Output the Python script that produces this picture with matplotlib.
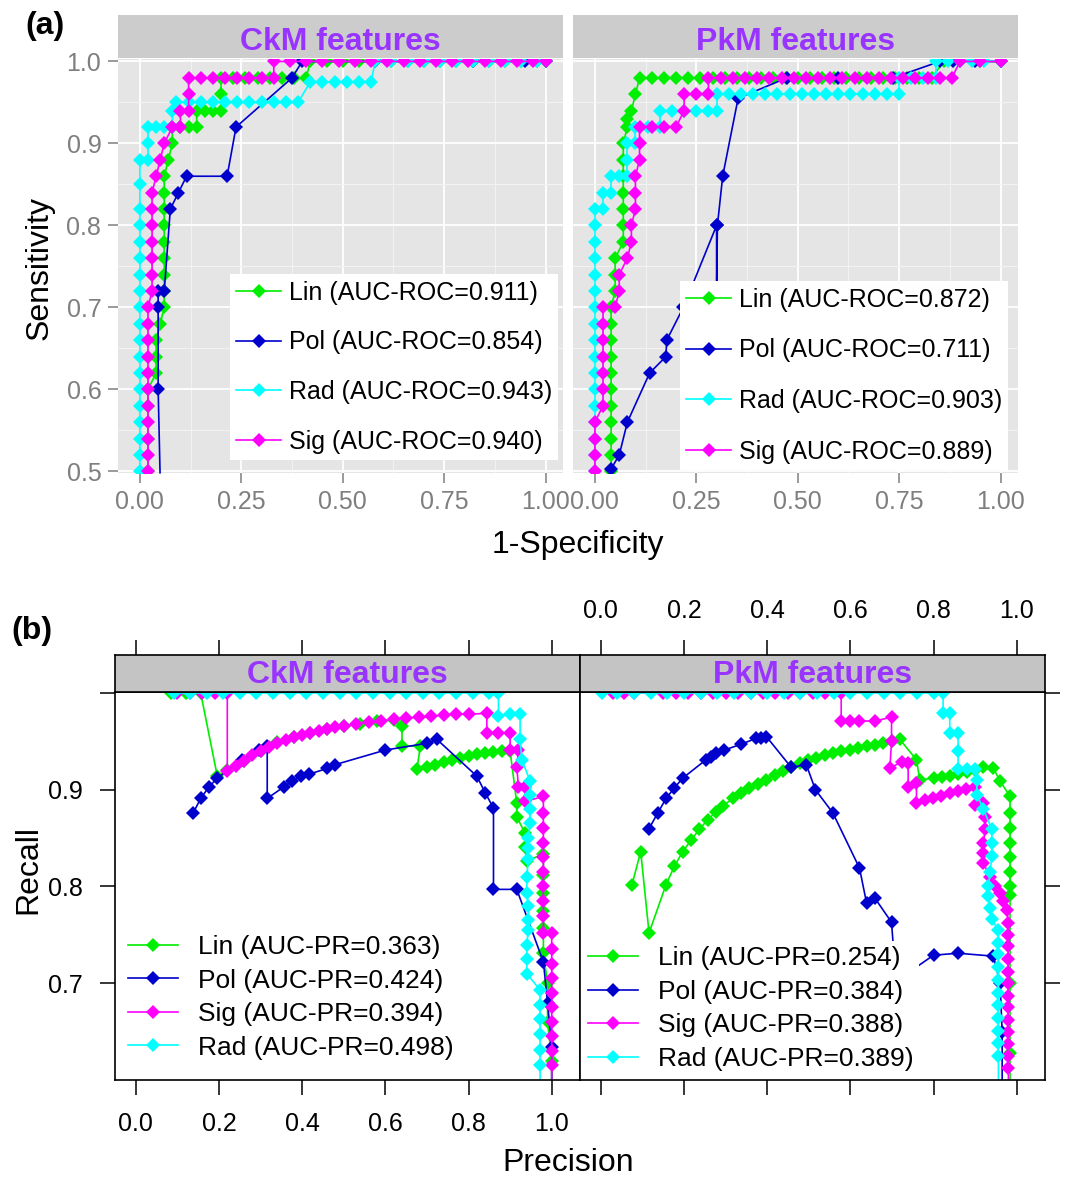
import matplotlib
matplotlib.use("Agg")
import matplotlib.pyplot as plt
from matplotlib.lines import Line2D

plt.rcParams['font.family'] = ['Liberation Sans', 'DejaVu Sans']

# colours used in both panels
GREEN = '#00EE00'
BLUE = '#0000CD'
CYAN = '#00FFFF'
MAGENTA = '#FF00FF'
PURPLE = '#9933FF'

# ---------------- (a) ROC curves, CkM features ----------------
lin_ckm_fpr = [0.02, 0.02, 0.02, 0.02, 0.04, 0.04, 0.04, 0.05, 0.06, 0.06, 0.06, 0.06, 0.06, 0.06, 0.06, 0.06, 0.06,
               0.07, 0.08, 0.08, 0.10, 0.12, 0.14, 0.14, 0.16, 0.18, 0.20, 0.20, 0.20, 0.23, 0.26, 0.29, 0.32, 0.35,
               0.38, 0.41, 0.42, 0.46, 0.50, 0.54, 0.58, 0.62, 0.66, 0.70, 0.74, 0.78, 0.82, 0.86, 0.90, 0.94, 0.98, 1.00]
lin_ckm_tpr = [0.50, 0.54, 0.58, 0.60, 0.62, 0.64, 0.66, 0.68, 0.70, 0.72, 0.74, 0.76, 0.78, 0.80, 0.82, 0.84, 0.86,
               0.88, 0.90, 0.92, 0.92, 0.92, 0.92, 0.94, 0.94, 0.94, 0.94, 0.96, 0.98, 0.98, 0.98, 0.98, 0.98, 0.98,
               0.98, 0.98, 1.00, 1.00, 1.00, 1.00, 1.00, 1.00, 1.00, 1.00, 1.00, 1.00, 1.00, 1.00, 1.00, 1.00, 1.00, 1.00]

pol_ckm_fpr = [0.05, 0.045, 0.045, 0.045, 0.06, 0.075, 0.095, 0.115, 0.215, 0.237, 0.375, 0.40, 0.58, 0.82, 0.95, 1.00]
pol_ckm_tpr = [0.49, 0.60, 0.70, 0.72, 0.72, 0.82, 0.84, 0.86, 0.86, 0.92, 0.98, 1.00, 1.00, 1.00, 1.00, 1.00]

rad_ckm_fpr = [0.00, 0.00, 0.00, 0.00, 0.00, 0.00, 0.00, 0.00, 0.00, 0.00, 0.00, 0.00, 0.00, 0.00, 0.00, 0.00, 0.00,
               0.00, 0.00, 0.02, 0.02, 0.02, 0.04, 0.06, 0.08, 0.08, 0.09, 0.12, 0.15, 0.18, 0.21, 0.24, 0.27, 0.30,
               0.33, 0.36, 0.39, 0.42, 0.45, 0.48, 0.51, 0.54, 0.57, 0.58, 0.62, 0.66, 0.70, 0.74, 0.78, 0.82, 0.86,
               0.90, 0.94, 0.98, 1.00]
rad_ckm_tpr = [0.50, 0.52, 0.54, 0.56, 0.58, 0.60, 0.62, 0.64, 0.66, 0.68, 0.70, 0.72, 0.74, 0.76, 0.78, 0.80, 0.82,
               0.85, 0.88, 0.88, 0.90, 0.92, 0.92, 0.92, 0.92, 0.94, 0.95, 0.95, 0.95, 0.95, 0.95, 0.95, 0.95, 0.95,
               0.95, 0.95, 0.95, 0.975, 0.975, 0.975, 0.975, 0.975, 0.975, 1.00, 1.00, 1.00, 1.00, 1.00, 1.00, 1.00,
               1.00, 1.00, 1.00, 1.00, 1.00]

sig_ckm_fpr = [0.02, 0.02, 0.02, 0.02, 0.02, 0.02, 0.02, 0.02, 0.02, 0.02, 0.02, 0.03, 0.03, 0.03, 0.03, 0.03, 0.03,
               0.03, 0.04, 0.05, 0.06, 0.08, 0.10, 0.10, 0.12, 0.12, 0.12, 0.15, 0.18, 0.21, 0.24, 0.27, 0.30, 0.33,
               0.33, 0.37, 0.41, 0.45, 0.49, 0.53, 0.57, 0.61, 0.65, 0.69, 0.73, 0.77, 0.81, 0.85, 0.89, 0.93, 0.97, 1.00]
sig_ckm_tpr = [0.50, 0.52, 0.54, 0.56, 0.58, 0.60, 0.62, 0.64, 0.66, 0.68, 0.70, 0.72, 0.74, 0.76, 0.78, 0.80, 0.82,
               0.84, 0.86, 0.88, 0.90, 0.92, 0.92, 0.94, 0.94, 0.96, 0.98, 0.98, 0.98, 0.98, 0.98, 0.98, 0.98, 0.98,
               1.00, 1.00, 1.00, 1.00, 1.00, 1.00, 1.00, 1.00, 1.00, 1.00, 1.00, 1.00, 1.00, 1.00, 1.00, 1.00, 1.00, 1.00]

# ---------------- (a) ROC curves, PkM features ----------------
lin_pkm_fpr = [0.04, 0.04, 0.04, 0.04, 0.04, 0.04, 0.04, 0.04, 0.04, 0.04, 0.04, 0.05, 0.05, 0.05, 0.07, 0.07, 0.07,
               0.07, 0.07, 0.07, 0.07, 0.08, 0.08, 0.09, 0.10, 0.11, 0.14, 0.17, 0.20, 0.23, 0.26, 0.29, 0.32, 0.35,
               0.38, 0.41, 0.44, 0.47, 0.50, 0.53, 0.56, 0.59, 0.62, 0.65, 0.68, 0.71, 0.74, 0.77, 0.80, 0.83, 0.86,
               0.90, 0.95, 1.00]
lin_pkm_tpr = [0.50, 0.52, 0.54, 0.56, 0.58, 0.60, 0.62, 0.64, 0.66, 0.68, 0.70, 0.72, 0.74, 0.76, 0.78, 0.80, 0.82,
               0.84, 0.86, 0.88, 0.90, 0.92, 0.93, 0.94, 0.96, 0.98, 0.98, 0.98, 0.98, 0.98, 0.98, 0.98, 0.98, 0.98,
               0.98, 0.98, 0.98, 0.98, 0.98, 0.98, 0.98, 0.98, 0.98, 0.98, 0.98, 0.98, 0.98, 0.98, 0.98, 0.98, 1.00,
               1.00, 1.00, 1.00]

pol_pkm_fpr = [0.04, 0.06, 0.08, 0.135, 0.175, 0.177, 0.218, 0.30, 0.30, 0.302, 0.315, 0.353, 0.473, 0.60, 0.735,
               0.85, 0.883, 0.937, 1.00]
pol_pkm_tpr = [0.503, 0.52, 0.56, 0.62, 0.64, 0.66, 0.70, 0.80, 0.72, 0.80, 0.86, 0.955, 0.98, 0.98, 0.98,
               1.00, 1.00, 1.00, 1.00]

rad_pkm_fpr = [0.00, 0.00, 0.00, 0.00, 0.00, 0.00, 0.00, 0.00, 0.00, 0.00, 0.00, 0.00, 0.00, 0.00, 0.00, 0.00, 0.00,
               0.02, 0.02, 0.04, 0.04, 0.06, 0.08, 0.08, 0.08, 0.10, 0.10, 0.13, 0.16, 0.16, 0.19, 0.22, 0.25, 0.28,
               0.30, 0.30, 0.33, 0.36, 0.39, 0.42, 0.45, 0.48, 0.51, 0.54, 0.57, 0.60, 0.63, 0.66, 0.69, 0.72, 0.75,
               0.75, 0.78, 0.81, 0.84, 0.84, 0.87, 0.90, 0.93, 0.96, 1.00]
rad_pkm_tpr = [0.50, 0.52, 0.54, 0.56, 0.58, 0.60, 0.62, 0.64, 0.66, 0.68, 0.70, 0.72, 0.74, 0.76, 0.78, 0.80, 0.82,
               0.82, 0.84, 0.84, 0.86, 0.86, 0.86, 0.88, 0.90, 0.90, 0.92, 0.92, 0.92, 0.94, 0.94, 0.94, 0.94, 0.94,
               0.94, 0.96, 0.96, 0.96, 0.96, 0.96, 0.96, 0.96, 0.96, 0.96, 0.96, 0.96, 0.96, 0.96, 0.96, 0.96, 0.96,
               0.98, 0.98, 0.98, 0.98, 1.00, 1.00, 1.00, 1.00, 1.00, 1.00]

sig_pkm_fpr = [0.00, 0.00, 0.00, 0.00, 0.02, 0.02, 0.02, 0.02, 0.02, 0.02, 0.02, 0.05, 0.06, 0.06, 0.08, 0.09, 0.09,
               0.10, 0.10, 0.10, 0.11, 0.11, 0.11, 0.14, 0.17, 0.20, 0.22, 0.22, 0.25, 0.28, 0.28, 0.31, 0.34, 0.37,
               0.40, 0.43, 0.46, 0.49, 0.52, 0.55, 0.58, 0.61, 0.64, 0.67, 0.70, 0.73, 0.76, 0.79, 0.82, 0.85, 0.88,
               0.90, 0.95, 1.00]
sig_pkm_tpr = [0.50, 0.52, 0.54, 0.56, 0.58, 0.60, 0.62, 0.64, 0.66, 0.68, 0.70, 0.70, 0.72, 0.74, 0.76, 0.78, 0.80,
               0.82, 0.84, 0.86, 0.88, 0.90, 0.92, 0.92, 0.92, 0.92, 0.94, 0.96, 0.96, 0.96, 0.98, 0.98, 0.98, 0.98,
               0.98, 0.98, 0.98, 0.98, 0.98, 0.98, 0.98, 0.98, 0.98, 0.98, 0.98, 0.98, 0.98, 0.98, 0.98, 0.98, 0.98,
               1.00, 1.00, 1.00]

roc_auc_ckm = {'Lin': '0.911', 'Pol': '0.854', 'Rad': '0.943', 'Sig': '0.940'}
roc_auc_pkm = {'Lin': '0.872', 'Pol': '0.711', 'Rad': '0.903', 'Sig': '0.889'}

# ---------------- (b) PR curves, CkM features ----------------
lin_ckm_prec = [0.084, 0.12, 0.156, 0.196, 0.22, 0.26, 0.30, 0.34, 0.38, 0.42, 0.46, 0.50, 0.54, 0.58, 0.62, 0.64,
                0.64, 0.684, 0.676, 0.70, 0.72, 0.74, 0.76, 0.78, 0.80, 0.82, 0.84, 0.86, 0.88, 0.90, 0.916, 0.916,
                0.936, 0.936, 0.94, 0.98, 0.98, 0.98, 0.98, 0.98, 0.98, 0.99, 0.99, 1.00, 1.00]
lin_ckm_rec = [1.00, 1.00, 1.00, 0.914, 0.92, 0.93, 0.94, 0.949, 0.955, 0.959, 0.963, 0.966, 0.968, 0.971, 0.972,
               0.966, 0.945, 0.945, 0.921, 0.924, 0.926, 0.929, 0.931, 0.933, 0.935, 0.937, 0.938, 0.939, 0.94, 0.94,
               0.886, 0.872, 0.855, 0.841, 0.826, 0.834, 0.812, 0.793, 0.775, 0.757, 0.731, 0.70, 0.66, 0.62, 0.59]

pol_ckm_prec = [0.138, 0.156, 0.176, 0.196, 0.256, 0.296, 0.316, 0.316, 0.356, 0.376, 0.396, 0.416, 0.46, 0.48,
                0.60, 0.70, 0.724, 0.82, 0.84, 0.86, 0.86, 0.916, 0.98, 0.99, 1.00, 1.00]
pol_ckm_rec = [0.876, 0.891, 0.903, 0.912, 0.931, 0.941, 0.945, 0.891, 0.903, 0.909, 0.914, 0.916, 0.922, 0.926,
               0.941, 0.948, 0.952, 0.914, 0.897, 0.881, 0.797, 0.797, 0.722, 0.68, 0.634, 0.59]

sig_ckm_prec = [0.10, 0.13, 0.16, 0.19, 0.22, 0.22, 0.24, 0.26, 0.28, 0.30, 0.32, 0.34, 0.36, 0.38, 0.40, 0.42, 0.44,
                0.46, 0.48, 0.50, 0.53, 0.56, 0.59, 0.62, 0.65, 0.68, 0.71, 0.74, 0.77, 0.80, 0.844, 0.844, 0.87,
                0.90, 0.90, 0.92, 0.916, 0.92, 0.936, 0.936, 0.98, 0.98, 0.98, 0.98, 0.98, 0.98, 0.98, 0.98, 0.98,
                0.98, 1.00, 1.00, 1.00, 1.00, 1.00, 1.00, 1.00, 1.00, 1.00, 1.00, 1.00]
sig_ckm_rec = [1.00, 1.00, 1.00, 1.00, 1.00, 0.919, 0.925, 0.93, 0.936, 0.94, 0.944, 0.948, 0.951, 0.954, 0.957,
               0.959, 0.961, 0.963, 0.965, 0.966, 0.968, 0.970, 0.971, 0.973, 0.974, 0.975, 0.976, 0.977, 0.978,
               0.978, 0.979, 0.959, 0.959, 0.959, 0.941, 0.941, 0.924, 0.903, 0.903, 0.888, 0.893, 0.876, 0.86,
               0.845, 0.83, 0.815, 0.80, 0.785, 0.77, 0.752, 0.752, 0.735, 0.72, 0.705, 0.69, 0.675, 0.66, 0.645,
               0.63, 0.615, 0.59]

rad_ckm_prec = [0.092, 0.13, 0.17, 0.21, 0.25, 0.29, 0.33, 0.37, 0.41, 0.45, 0.49, 0.53, 0.57, 0.61, 0.65, 0.69,
                0.73, 0.77, 0.81, 0.85, 0.872, 0.872, 0.90, 0.924, 0.924, 0.928, 0.948, 0.948, 0.948, 0.948, 0.944,
                0.944, 0.944, 0.94, 0.94, 0.944, 0.944, 0.944, 0.94, 0.94, 0.94, 0.972, 0.972, 0.972, 0.972, 0.972,
                0.972, 0.972]
rad_ckm_rec = [1.00, 1.00, 1.00, 1.00, 1.00, 1.00, 1.00, 1.00, 1.00, 1.00, 1.00, 1.00, 1.00, 1.00, 1.00, 1.00, 1.00,
               1.00, 1.00, 1.00, 1.00, 0.976, 0.978, 0.978, 0.952, 0.931, 0.909, 0.895, 0.88, 0.866, 0.85, 0.84,
               0.828, 0.81, 0.793, 0.78, 0.765, 0.755, 0.74, 0.725, 0.71, 0.693, 0.678, 0.663, 0.648, 0.631, 0.615,
               0.59]

# ---------------- (b) PR curves, PkM features ----------------
lin_pkm_prec = [0.075, 0.096, 0.116, 0.157, 0.177, 0.197, 0.217, 0.237, 0.257, 0.277, 0.293, 0.317, 0.337, 0.357,
                0.378, 0.398, 0.418, 0.438, 0.458, 0.478, 0.498, 0.518, 0.538, 0.558, 0.578, 0.598, 0.618, 0.639,
                0.659, 0.679, 0.699, 0.719, 0.759, 0.767, 0.80, 0.82, 0.839, 0.86, 0.88, 0.90, 0.92, 0.944, 0.96,
                0.984, 0.984, 0.984, 0.984, 0.984, 0.984, 0.984, 0.984, 0.984, 0.984, 0.984]
lin_pkm_rec = [0.802, 0.836, 0.752, 0.802, 0.821, 0.836, 0.848, 0.859, 0.869, 0.877, 0.883, 0.891, 0.897, 0.902,
               0.906, 0.91, 0.915, 0.919, 0.923, 0.928, 0.931, 0.933, 0.936, 0.938, 0.94, 0.941, 0.943, 0.945, 0.946,
               0.948, 0.95, 0.952, 0.931, 0.91, 0.912, 0.913, 0.914, 0.916, 0.918, 0.92, 0.923, 0.922, 0.909, 0.893,
               0.876, 0.86, 0.845, 0.83, 0.815, 0.80, 0.791, 0.70, 0.628, 0.59]

pol_pkm_prec = [0.115, 0.137, 0.157, 0.177, 0.197, 0.253, 0.265, 0.277, 0.297, 0.337, 0.373, 0.385, 0.398, 0.458,
                0.494, 0.516, 0.558, 0.622, 0.639, 0.659, 0.699, 0.71, 0.743, 0.80, 0.859, 0.944, 0.96, 0.965, 0.965]
pol_pkm_rec = [0.859, 0.876, 0.891, 0.902, 0.912, 0.931, 0.934, 0.938, 0.941, 0.947, 0.953, 0.953, 0.955, 0.923,
               0.926, 0.90, 0.876, 0.819, 0.783, 0.788, 0.763, 0.70, 0.712, 0.729, 0.731, 0.728, 0.70, 0.65, 0.59]

sig_pkm_prec = [0.03, 0.055, 0.08, 0.15, 0.18, 0.21, 0.24, 0.27, 0.30, 0.33, 0.36, 0.39, 0.42, 0.45, 0.48, 0.51,
                0.54, 0.578, 0.578, 0.598, 0.622, 0.659, 0.699, 0.699, 0.695, 0.723, 0.739, 0.739, 0.759, 0.759,
                0.779, 0.799, 0.819, 0.839, 0.859, 0.879, 0.90, 0.90, 0.92, 0.924, 0.924, 0.92, 0.92, 0.92, 0.936,
                0.948, 0.96, 0.968, 0.976, 0.98, 0.98, 0.98, 0.98, 0.98, 0.98, 0.98, 0.98, 0.98, 0.98, 0.98, 0.98,
                0.98, 0.98]
sig_pkm_rec = [1.00, 1.00, 1.00, 1.00, 1.00, 1.00, 1.00, 1.00, 1.00, 1.00, 1.00, 1.00, 1.00, 1.00, 1.00, 1.00,
               1.00, 1.00, 0.971, 0.971, 0.971, 0.971, 0.975, 0.95, 0.922, 0.929, 0.928, 0.903, 0.907, 0.886,
               0.889, 0.891, 0.894, 0.897, 0.899, 0.901, 0.903, 0.884, 0.886, 0.872, 0.859, 0.845, 0.835, 0.824,
               0.81, 0.80, 0.793, 0.785, 0.776, 0.762, 0.75, 0.738, 0.725, 0.712, 0.70, 0.687, 0.675, 0.662, 0.65,
               0.637, 0.625, 0.612, 0.59]

rad_pkm_prec = [0.004, 0.04, 0.08, 0.12, 0.16, 0.20, 0.24, 0.28, 0.32, 0.36, 0.40, 0.44, 0.48, 0.52, 0.56, 0.60,
                0.64, 0.68, 0.72, 0.76, 0.80, 0.823, 0.823, 0.839, 0.839, 0.859, 0.859, 0.859, 0.88, 0.90, 0.904,
                0.904, 0.92, 0.94, 0.94, 0.94, 0.936, 0.932, 0.932, 0.936, 0.94, 0.956, 0.956, 0.956, 0.956, 0.956,
                0.956, 0.956, 0.956, 0.956, 0.956, 0.956, 0.956]
rad_pkm_rec = [1.00, 1.00, 1.00, 1.00, 1.00, 1.00, 1.00, 1.00, 1.00, 1.00, 1.00, 1.00, 1.00, 1.00, 1.00, 1.00,
               1.00, 1.00, 1.00, 1.00, 1.00, 1.00, 0.979, 0.979, 0.959, 0.959, 0.94, 0.921, 0.921, 0.921, 0.91,
               0.895, 0.88, 0.859, 0.845, 0.831, 0.815, 0.80, 0.79, 0.778, 0.766, 0.755, 0.742, 0.73, 0.717, 0.703,
               0.69, 0.677, 0.664, 0.651, 0.638, 0.625, 0.59]

pr_auc_ckm = {'Lin': '0.363', 'Pol': '0.424', 'Sig': '0.394', 'Rad': '0.498'}
pr_auc_pkm = {'Lin': '0.254', 'Pol': '0.384', 'Sig': '0.388', 'Rad': '0.389'}

colors = {'Lin': GREEN, 'Pol': BLUE, 'Rad': CYAN, 'Sig': MAGENTA}

# figure in pixel layout
W, H = 1068, 1177
fig = plt.figure(figsize=(W / 100, H / 100), dpi=100)


def rect(x0, y0, x1, y1):
    return [x0 / W, 1 - y1 / H, (x1 - x0) / W, (y1 - y0) / H]


MS = 7.5
LW = 1.2


def strip(r, title, face, border, ty):
    s = fig.add_axes(r)
    s.set_facecolor(face)
    s.set_xticks([])
    s.set_yticks([])
    for sp in s.spines.values():
        sp.set_visible(border)
        sp.set_linewidth(1.2)
    s.text(0.5, ty, title, transform=s.transAxes, ha='center', va='center',
           color=PURPLE, fontsize=23, fontweight='bold')
    return s


# ---------- (a) ggplot-like ROC panels ----------
roc_sets = [
    ('CkM features', rect(118, 59, 563, 473), rect(118, 15, 563, 58),
     {'Lin': (lin_ckm_fpr, lin_ckm_tpr), 'Pol': (pol_ckm_fpr, pol_ckm_tpr),
      'Rad': (rad_ckm_fpr, rad_ckm_tpr), 'Sig': (sig_ckm_fpr, sig_ckm_tpr)},
     roc_auc_ckm, (0.989, 0.031), 1.03, True),
    ('PkM features', rect(573, 59, 1018, 473), rect(573, 15, 1018, 58),
     {'Lin': (lin_pkm_fpr, lin_pkm_tpr), 'Pol': (pol_pkm_fpr, pol_pkm_tpr),
      'Rad': (rad_pkm_fpr, rad_pkm_tpr), 'Sig': (sig_pkm_fpr, sig_pkm_tpr)},
     roc_auc_pkm, (0.978, 0.007), 1.07, False),
]

for title, r, sr, curves, aucs, anchor, lspace, show_y in roc_sets:
    ax = fig.add_axes(r)
    ax.set_facecolor('#E5E5E5')
    for sp in ax.spines.values():
        sp.set_visible(False)
    ax.set_xlim(-0.054, 1.043)
    ax.set_ylim(0.498, 1.003)
    ax.set_xticks([0.0, 0.25, 0.5, 0.75, 1.0])
    ax.set_xticks([0.125, 0.375, 0.625, 0.875], minor=True)
    ax.set_yticks([0.5, 0.6, 0.7, 0.8, 0.9, 1.0])
    ax.set_yticks([0.55, 0.65, 0.75, 0.85, 0.95], minor=True)
    ax.grid(which='major', color='white', lw=1.3)
    ax.grid(which='minor', color='#F2F2F2', lw=0.8)
    ax.set_axisbelow(True)
    ax.set_xticklabels(['0.00', '0.25', '0.50', '0.75', '1.00'])
    ax.tick_params(which='major', direction='out', length=7, width=1.1, color='#7F7F7F',
                   labelcolor='#7F7F7F', labelsize=18, pad=5)
    ax.tick_params(which='minor', length=0)
    if show_y:
        ax.set_yticklabels(['0.5', '0.6', '0.7', '0.8', '0.9', '1.0'])
    else:
        ax.tick_params(axis='y', which='major', length=0, labelleft=False)

    handles = []
    for name in ['Lin', 'Pol', 'Rad', 'Sig']:
        x, y = curves[name]
        ax.plot(x, y, color=colors[name], lw=LW, marker='D', ms=MS, mew=0)
        handles.append(Line2D([], [], color=colors[name], lw=LW, marker='D', ms=MS, mew=0,
                              label=f'{name} (AUC-ROC={aucs[name]})'))
    leg = ax.legend(handles=handles, loc='lower right', bbox_to_anchor=anchor, borderaxespad=0,
                    fontsize=18, labelspacing=lspace, handlelength=1.8, handletextpad=0.3,
                    borderpad=0.25, frameon=True, fancybox=False, numpoints=1)
    leg.get_frame().set_facecolor('white')
    leg.get_frame().set_edgecolor('none')
    leg.get_frame().set_alpha(1)

    strip(sr, title, '#CCCCCC', False, 0.38)

# ---------- (b) lattice-like PR panels ----------
pr_sets = [
    ('CkM features', rect(115, 692, 580, 1080), rect(115, 655, 580, 692),
     {'Lin': (lin_ckm_prec, lin_ckm_rec), 'Pol': (pol_ckm_prec, pol_ckm_rec),
      'Sig': (sig_ckm_prec, sig_ckm_rec), 'Rad': (rad_ckm_prec, rad_ckm_rec)},
     pr_auc_ckm, (0.017, 0.039), 'left'),
    ('PkM features', rect(580, 692, 1045, 1080), rect(580, 655, 1045, 692),
     {'Lin': (lin_pkm_prec, lin_pkm_rec), 'Pol': (pol_pkm_prec, pol_pkm_rec),
      'Sig': (sig_pkm_prec, sig_pkm_rec), 'Rad': (rad_pkm_prec, rad_pkm_rec)},
     pr_auc_pkm, (0.006, 0.01), 'right'),
]

xt = [0.0, 0.2, 0.4, 0.6, 0.8, 1.0]
xtl = ['0.0', '0.2', '0.4', '0.6', '0.8', '1.0']
yt = [0.7, 0.8, 0.9, 1.0]

for title, r, sr, curves, aucs, anchor, side in pr_sets:
    ax = fig.add_axes(r)
    ax.set_xlim(-0.05, 1.068)
    ax.set_ylim(0.6, 1.001)
    for sp in ax.spines.values():
        sp.set_linewidth(1.2)
    ax.set_xticks(xt)
    ax.set_yticks(yt)
    ax.tick_params(direction='out', length=11, width=1.1, labelsize=18, pad=12)
    if side == 'left':
        ax.set_xticklabels(xtl)
        ax.set_yticklabels(['0.7', '0.8', '0.9', ''])
    else:
        ax.tick_params(labelbottom=False, left=False, labelleft=False, right=True)

    handles = []
    for name in ['Lin', 'Pol', 'Sig', 'Rad']:
        x, y = curves[name]
        ax.plot(x, y, color=colors[name], lw=LW, marker='D', ms=MS, mew=0)
        handles.append(Line2D([], [], color=colors[name], lw=LW, marker='D', ms=MS, mew=0,
                              label=f'{name} (AUC-PR={aucs[name]})'))
    leg = ax.legend(handles=handles, loc='lower left', bbox_to_anchor=anchor, borderaxespad=0,
                    fontsize=19, labelspacing=0.36, handlelength=1.9, handletextpad=0.75,
                    borderpad=0.2, frameon=True, fancybox=False, numpoints=1)
    leg.get_frame().set_facecolor('white')
    leg.get_frame().set_edgecolor('none')
    leg.get_frame().set_alpha(1)

    s = strip(sr, title, '#C4C4C4', True, 0.45)
    s.set_xlim(-0.05, 1.068)
    s.set_xticks(xt)
    s.tick_params(axis='x', direction='out', length=11, width=1.1, bottom=False, top=True,
                  labelbottom=False, labeltop=(side == 'right'), labelsize=18, pad=12)
    if side == 'right':
        s.set_xticklabels(xtl)

# axis titles and panel letters
fig.text(45 / W, 1 - 26 / H, '(a)', fontsize=23, fontweight='bold', ha='center', va='center')
fig.text(32 / W, 1 - 631 / H, '(b)', fontsize=23, fontweight='bold', ha='center', va='center')
fig.text(40 / W, 1 - 268 / H, 'Sensitivity', fontsize=23, rotation=90, ha='center', va='center')
fig.text(578 / W, 1 - 545 / H, '1-Specificity', fontsize=23, ha='center', va='center')
fig.text(28 / W, 1 - 870 / H, 'Recall', fontsize=23, rotation=90, ha='center', va='center')
fig.text(568 / W, 1 - 1163 / H, 'Precision', fontsize=23, ha='center', va='center')

fig.savefig('out.png', dpi=100)
